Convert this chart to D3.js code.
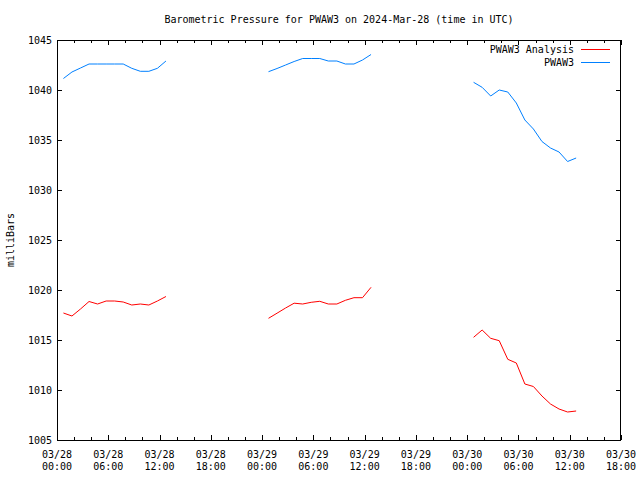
<!DOCTYPE html>
<html><head><meta charset="utf-8">
<script src="https://cdn.jsdelivr.net/npm/d3@7"></script>
<style>body{margin:0;background:#fff}svg text{font-family:"DejaVu Sans Mono","Liberation Mono",monospace;font-size:10px;fill:#000}</style>
</head><body>
<svg id="chart" width="640" height="480"></svg>
<script>
const titleText = "Barometric Pressure for PWAW3 on 2024-Mar-28 (time in UTC)";
const yLabel = "milliBars";
const seriesNames = ["PWAW3 Analysis", "PWAW3"];
const seriesColors = ["#ff0000", "#0080ff"];
const yTicks = [1005, 1010, 1015, 1020, 1025, 1030, 1035, 1040, 1045];
const times = [
 "2024-03-28T00:45Z","2024-03-28T01:45Z","2024-03-28T02:45Z","2024-03-28T03:45Z","2024-03-28T04:45Z","2024-03-28T05:45Z","2024-03-28T06:45Z","2024-03-28T07:45Z","2024-03-28T08:45Z","2024-03-28T09:45Z","2024-03-28T10:45Z","2024-03-28T11:45Z","2024-03-28T12:45Z",
 "2024-03-29T00:45Z","2024-03-29T01:45Z","2024-03-29T02:45Z","2024-03-29T03:45Z","2024-03-29T04:45Z","2024-03-29T05:45Z","2024-03-29T06:45Z","2024-03-29T07:45Z","2024-03-29T08:45Z","2024-03-29T09:45Z","2024-03-29T10:45Z","2024-03-29T11:45Z","2024-03-29T12:45Z",
 "2024-03-30T00:45Z","2024-03-30T01:45Z","2024-03-30T02:45Z","2024-03-30T03:45Z","2024-03-30T04:45Z","2024-03-30T05:45Z","2024-03-30T06:45Z","2024-03-30T07:45Z","2024-03-30T08:45Z","2024-03-30T09:45Z","2024-03-30T10:45Z","2024-03-30T11:45Z","2024-03-30T12:45Z"
];
const analysis = [
 1017.7,1017.4,1018.1,1018.85,1018.6,1018.9,1018.9,1018.8,1018.5,1018.6,1018.5,1018.9,1019.35,
 1017.17,1017.68,1018.2,1018.68,1018.6,1018.77,1018.87,1018.6,1018.6,1018.97,1019.23,1019.23,1020.27,
 1015.27,1016.0,1015.17,1014.93,1013.07,1012.7,1010.6,1010.35,1009.4,1008.6,1008.1,1007.8,1007.9
];
const observed = [
 1041.15,1041.8,1042.2,1042.6,1042.6,1042.6,1042.6,1042.6,1042.17,1041.87,1041.87,1042.17,1042.9,
 1041.83,1042.15,1042.5,1042.85,1043.15,1043.15,1043.15,1042.9,1042.9,1042.6,1042.6,1043.0,1043.55,
 1040.77,1040.27,1039.4,1040.0,1039.8,1038.7,1037.0,1036.1,1034.85,1034.2,1033.8,1032.85,1033.2
];
const xStart = "2024-03-28T00:00Z", xEnd = "2024-03-30T18:00Z";

const svg = d3.select("#chart");
const L = 57, R = 621, T = 40, B = 440;
const x = d3.scaleUtc().domain([new Date(xStart), new Date(xEnd)]).range([L, R]);
const y = d3.scaleLinear().domain([1005, 1045]).range([B, T]);

const dates = times.map(t => new Date(t));
function segments(vals) {
  const segs = []; let cur = [];
  dates.forEach((d, i) => {
    if (cur.length && (d - cur[cur.length-1].t) > 3 * 3600e3) { segs.push(cur); cur = []; }
    cur.push({t: d, v: vals[i]});
  });
  if (cur.length) segs.push(cur);
  return segs;
}

const minorTicks = d3.utcHour.every(2).range(new Date(xStart), new Date(new Date(xEnd).getTime() + 1));
const majorTicks = d3.utcHour.every(6).range(new Date(xStart), new Date(new Date(xEnd).getTime() + 1));
const g = svg.append("g").attr("shape-rendering", "crispEdges");
minorTicks.forEach(t => {
  const major = t.getUTCHours() % 6 === 0;
  const len = major ? 5 : 3;
  const px = Math.round(x(t)) + 0.5;
  g.append("line").attr("x1", px).attr("x2", px).attr("y1", B).attr("y2", B - len).attr("stroke", "#000");
  g.append("line").attr("x1", px).attr("x2", px).attr("y1", T).attr("y2", T + len).attr("stroke", "#000");
});
yTicks.forEach(v => {
  const py = Math.round(y(v)) + 0.5;
  g.append("line").attr("x1", L).attr("x2", L + 5).attr("y1", py).attr("y2", py).attr("stroke", "#000");
  g.append("line").attr("x1", R).attr("x2", R - 5).attr("y1", py).attr("y2", py).attr("stroke", "#000");
  svg.append("text").attr("x", 52).attr("y", y(v) + 3.5).attr("text-anchor", "end").text(v);
});
const fmtD = d3.utcFormat("%m/%d"), fmtH = d3.utcFormat("%H:%M");
majorTicks.forEach(t => {
  const tx = svg.append("text").attr("x", x(t)).attr("y", 458).attr("text-anchor", "middle");
  tx.append("tspan").attr("x", x(t)).text(fmtD(t));
  tx.append("tspan").attr("x", x(t)).attr("dy", 11.5).text(fmtH(t));
});
g.append("rect").attr("x", L + 0.5).attr("y", T + 0.5).attr("width", R - L - 1).attr("height", B - T).attr("fill", "none").attr("stroke", "#000");

const line = d3.line().x(d => x(d.t)).y(d => y(d.v));
[analysis, observed].forEach((vals, i) => {
  segments(vals).forEach(seg => {
    svg.append("path").datum(seg).attr("d", line).attr("fill", "none").attr("stroke", seriesColors[i]).attr("stroke-width", 1);
  });
});

svg.append("text").attr("x", 339).attr("y", 23).attr("text-anchor", "middle").text(titleText);
svg.append("text").attr("transform", "translate(14,240) rotate(-90)").attr("text-anchor", "middle").text(yLabel);

seriesNames.forEach((n, i) => {
  const ly = 49 + i * 13;
  svg.append("text").attr("x", 574).attr("y", ly + 4).attr("text-anchor", "end").text(n);
  svg.append("line").attr("x1", 581).attr("x2", 610).attr("y1", ly + 0.5).attr("y2", ly + 0.5).attr("stroke", seriesColors[i]).attr("shape-rendering", "crispEdges");
});
</script>
</body></html>
